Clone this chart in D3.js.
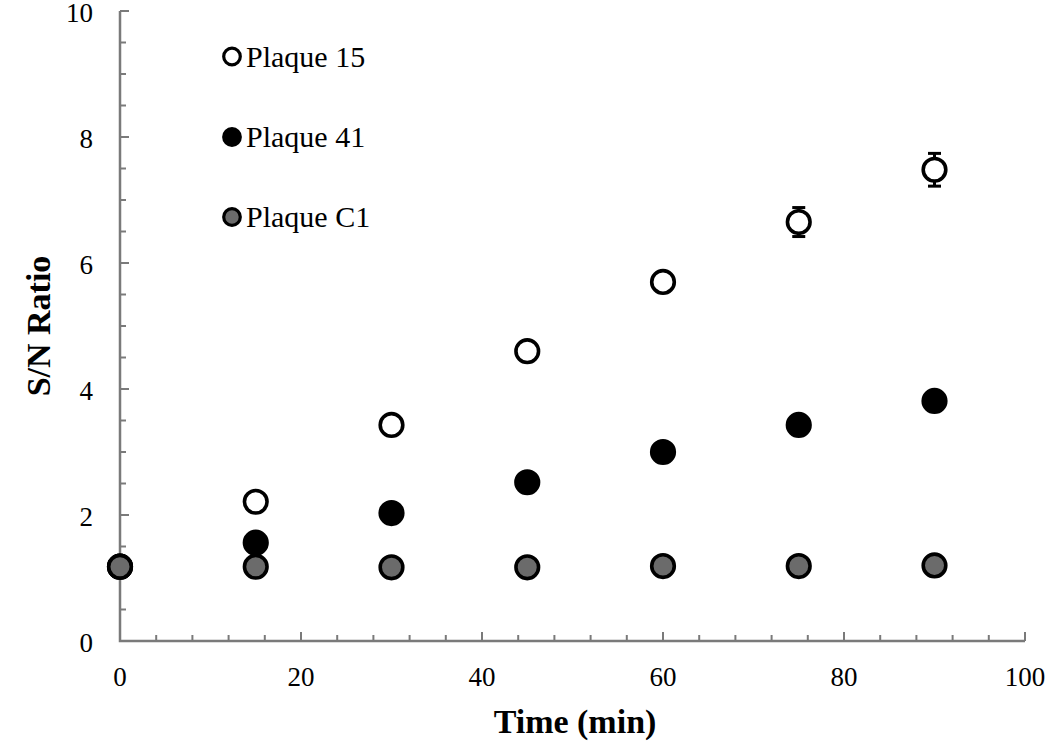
<!DOCTYPE html>
<html><head><meta charset="utf-8">
<script src="https://cdn.jsdelivr.net/npm/d3@7"></script>
<style>body{margin:0;background:#fff}svg{display:block}</style>
</head><body>
<script>
const times = [0, 15, 30, 45, 60, 75, 90];
const plaque15 = [1.18, 2.21, 3.43, 4.60, 5.70, 6.65, 7.48];
const plaque15Err = [0, 0, 0, 0, 0, 0.23, 0.26];
const plaque41 = [1.18, 1.56, 2.03, 2.52, 3.00, 3.43, 3.81];
const plaqueC1 = [1.18, 1.18, 1.17, 1.17, 1.19, 1.19, 1.20];
const xTicks = [0, 20, 40, 60, 80, 100];
const yTicks = [0, 2, 4, 6, 8, 10];
const seriesNames = ["Plaque 15", "Plaque 41", "Plaque C1"];
const seriesFill = ["#ffffff", "#000000", "#6b6b6b"];

const W = 1050, H = 754;
const svg = d3.select("body").append("svg").attr("width", W).attr("height", H);
const x = d3.scaleLinear().domain([0, 100]).range([120, 1025]);
const y = d3.scaleLinear().domain([0, 10]).range([641, 11]);
const axisColor = "#7a7a7a";
const font = "'Liberation Serif','Times New Roman',serif";

// minor ticks
const xMinor = d3.range(0, 100.01, 4);
const yMinor = d3.range(0, 10.01, 0.5);
const g = svg.append("g");
g.selectAll(".xm").data(xMinor).join("line")
  .attr("x1", d => x(d)).attr("x2", d => x(d))
  .attr("y1", y(0)).attr("y2", y(0) - 6)
  .attr("stroke", axisColor).attr("stroke-width", 2);
g.selectAll(".ym").data(yMinor).join("line")
  .attr("x1", x(0)).attr("x2", x(0) + 6)
  .attr("y1", d => y(d)).attr("y2", d => y(d))
  .attr("stroke", axisColor).attr("stroke-width", 2);
// major ticks
g.selectAll(".xM").data(xTicks).join("line")
  .attr("x1", d => x(d)).attr("x2", d => x(d))
  .attr("y1", y(0)).attr("y2", y(0) - 9)
  .attr("stroke", axisColor).attr("stroke-width", 2);
g.selectAll(".yM").data(yTicks).join("line")
  .attr("x1", x(0)).attr("x2", x(0) + 9)
  .attr("y1", d => y(d)).attr("y2", d => y(d))
  .attr("stroke", axisColor).attr("stroke-width", 2);
// axis lines
g.append("path")
  .attr("d", `M${x(0)},${y(10)}V${y(0)}H${x(100)}`)
  .attr("fill", "none").attr("stroke", axisColor).attr("stroke-width", 2.5);

// tick labels
svg.selectAll(".xl").data(xTicks).join("text")
  .attr("x", d => x(d)).attr("y", 686)
  .attr("text-anchor", "middle").attr("font-family", font).attr("font-size", 27)
  .attr("fill", "#000").text(d => d);
svg.selectAll(".yl").data(yTicks).join("text")
  .attr("x", 93).attr("y", d => y(d) + 11)
  .attr("text-anchor", "end").attr("font-family", font).attr("font-size", 27)
  .attr("fill", "#000").text(d => d);

// axis titles
svg.append("text").attr("x", 575).attr("y", 733)
  .attr("text-anchor", "middle").attr("font-family", font).attr("font-weight", "bold")
  .attr("font-size", 34).attr("fill", "#000").text("Time (min)");
svg.append("text").attr("transform", "translate(50,326) rotate(-90)")
  .attr("text-anchor", "middle").attr("font-family", font).attr("font-weight", "bold")
  .attr("font-size", 34).attr("fill", "#000").text("S/N Ratio");

// data
const series = [plaque15, plaque41, plaqueC1];
const eb = svg.append("g");
times.forEach((t, i) => {
  const e = plaque15Err[i];
  if (e > 0) {
    const cx = x(t);
    eb.append("line").attr("x1", cx).attr("x2", cx)
      .attr("y1", y(plaque15[i] + e)).attr("y2", y(plaque15[i] - e))
      .attr("stroke", "#000").attr("stroke-width", 3);
    [plaque15[i] + e, plaque15[i] - e].forEach(v => {
      eb.append("line").attr("x1", cx - 6.5).attr("x2", cx + 6.5)
        .attr("y1", y(v)).attr("y2", y(v))
        .attr("stroke", "#000").attr("stroke-width", 3);
    });
  }
});
series.forEach((s, si) => {
  svg.append("g").selectAll("circle").data(s).join("circle")
    .attr("cx", (d, i) => x(times[i])).attr("cy", d => y(d))
    .attr("r", 11.3).attr("fill", seriesFill[si])
    .attr("stroke", "#000").attr("stroke-width", 3.6);
});

// legend
const legY = [56.5, 137, 217];
seriesNames.forEach((n, i) => {
  svg.append("circle").attr("cx", 232).attr("cy", legY[i]).attr("r", 8.3)
    .attr("fill", seriesFill[i]).attr("stroke", "#000").attr("stroke-width", 3.2);
  svg.append("text").attr("x", 246).attr("y", legY[i] + 10)
    .attr("font-family", font).attr("font-size", 30).attr("fill", "#000").text(n);
});
</script>
</body></html>
